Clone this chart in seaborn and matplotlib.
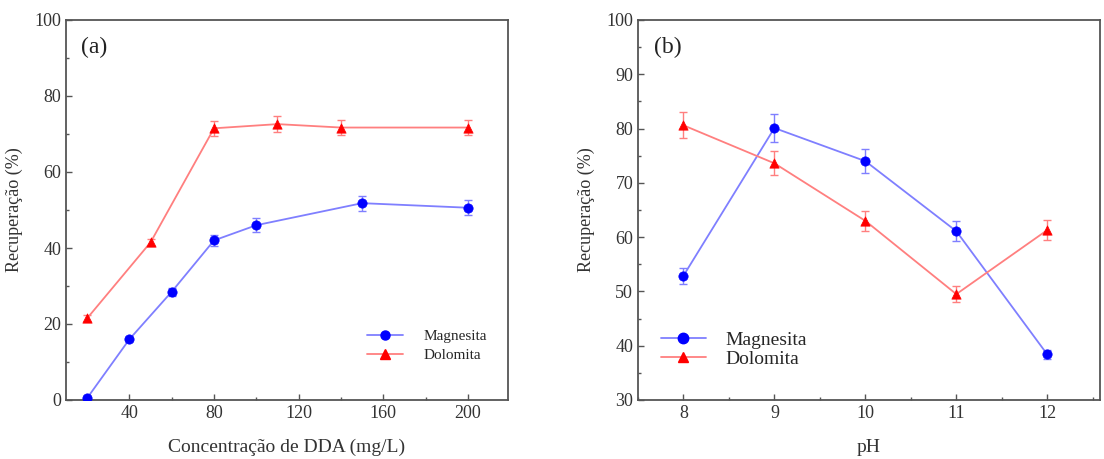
import numpy as np
import pandas as pd
import matplotlib
matplotlib.use("Agg")
import matplotlib.pyplot as plt
from matplotlib.lines import Line2D
from matplotlib.ticker import MultipleLocator
import seaborn as sns

# ---- data: panel (a) ----
dda_mag = [20, 40, 60, 80, 100, 150, 200]
rec_mag_a = [0.5, 16, 28.5, 42, 46, 51.8, 50.6]
err_mag_a = [0.6, 0.6, 1.0, 1.4, 1.8, 2.0, 2.0]
dda_dol = [20, 50, 80, 110, 140, 200]
rec_dol_a = [21.5, 41.5, 71.5, 72.6, 71.7, 71.7]
err_dol_a = [0.8, 1.0, 2.0, 2.2, 2.0, 2.0]

# ---- data: panel (b) ----
ph = [8, 9, 10, 11, 12]
rec_mag_b = [52.9, 80.1, 74.0, 61.1, 38.4]
err_mag_b = [1.5, 2.5, 2.2, 1.8, 0.8]
rec_dol_b = [80.6, 73.6, 63.0, 49.5, 61.3]
err_dol_b = [2.4, 2.2, 1.8, 1.5, 1.8]

labels = ["Magnesita", "Dolomita"]
ylabel = "Recuperação (%)"
xlabel_a = "Concentração de DDA (mg/L)"
xlabel_b = "pH"

sns.set_style("ticks")
plt.rcParams["font.family"] = ["Liberation Serif", "DejaVu Serif"]
plt.rcParams["xtick.direction"] = "in"
plt.rcParams["ytick.direction"] = "in"

BLUE = "#0000ff"
RED = "#ff0000"
BLUE_L = "#7f7fff"
RED_L = "#ff7f7f"
SPINE = "#555555"

fig = plt.figure(figsize=(11.04, 4.59), dpi=100)
ax1 = fig.add_axes([66/1104, 1-400/459, (508-66)/1104, 380/459])
ax2 = fig.add_axes([638/1104, 1-400/459, (1100-638)/1104, 380/459])


def draw(ax, x, y, e, color, light, marker):
    ax.errorbar(x, y, yerr=e, fmt="none", ecolor=light, elinewidth=1.0,
                capsize=3, capthick=1.0, zorder=2)
    sns.lineplot(x=x, y=y, ax=ax, color=light, linewidth=1.3, zorder=3,
                 errorbar=None, sort=False)
    sns.scatterplot(x=x, y=y, ax=ax, color=color, marker=marker, s=45,
                    edgecolor=color, linewidth=0.5, zorder=4)


draw(ax1, dda_mag, rec_mag_a, err_mag_a, BLUE, BLUE_L, "o")
draw(ax1, dda_dol, rec_dol_a, err_dol_a, RED, RED_L, "^")
draw(ax2, ph, rec_mag_b, err_mag_b, BLUE, BLUE_L, "o")
draw(ax2, ph, rec_dol_b, err_dol_b, RED, RED_L, "^")

ax1.set_xlim(10, 219)
ax1.set_ylim(0, 100)
ax1.xaxis.set_major_locator(MultipleLocator(40))
ax1.xaxis.set_minor_locator(MultipleLocator(20))
ax1.yaxis.set_major_locator(MultipleLocator(20))
ax1.yaxis.set_minor_locator(MultipleLocator(10))

ax2.set_xlim(7.5, 12.58)
ax2.set_ylim(30, 100)
ax2.xaxis.set_major_locator(MultipleLocator(1))
ax2.xaxis.set_minor_locator(MultipleLocator(0.5))
ax2.yaxis.set_major_locator(MultipleLocator(10))
ax2.yaxis.set_minor_locator(MultipleLocator(5))

for ax, xl, tag in [(ax1, xlabel_a, "(a)"), (ax2, xlabel_b, "(b)")]:
    for s in ax.spines.values():
        s.set_color(SPINE)
        s.set_linewidth(1.3)
        s.set_visible(True)
    ax.tick_params(which="major", length=4, width=1, color=SPINE,
                   labelsize=13, top=False, right=False)
    ax.tick_params(which="minor", length=2.5, width=1, color=SPINE,
                   top=False, right=False)
    ax.set_xlabel(xl, fontsize=14, color="#333333", labelpad=12)
    ax.set_ylabel(ylabel, fontsize=13, color="#333333", labelpad=8)
    ax.text(0.035, 0.955, tag, transform=ax.transAxes, fontsize=17,
            va="top", ha="left", color="#222222")
    for lab in ax.get_xticklabels() + ax.get_yticklabels():
        lab.set_color("#333333")


def handles(ms):
    return [Line2D([0], [0], color=BLUE_L, marker="o", markerfacecolor=BLUE,
                   markeredgecolor=BLUE, markersize=ms, linewidth=1.3),
            Line2D([0], [0], color=RED_L, marker="^", markerfacecolor=RED,
                   markeredgecolor=RED, markersize=ms, linewidth=1.3)]


ax1.legend(handles(6.5), labels, loc="lower left", bbox_to_anchor=(0.68, 0.1),
           frameon=False, fontsize=11, handlelength=2.4, handletextpad=1.3,
           labelspacing=0.35, borderpad=0, borderaxespad=0)
ax2.legend(handles(7.5), labels, loc="lower left", bbox_to_anchor=(0.05, 0.085),
           frameon=False, fontsize=14, handlelength=2.3, handletextpad=1.0,
           labelspacing=0.05, borderpad=0, borderaxespad=0)

fig.savefig("out.png", dpi=100)
